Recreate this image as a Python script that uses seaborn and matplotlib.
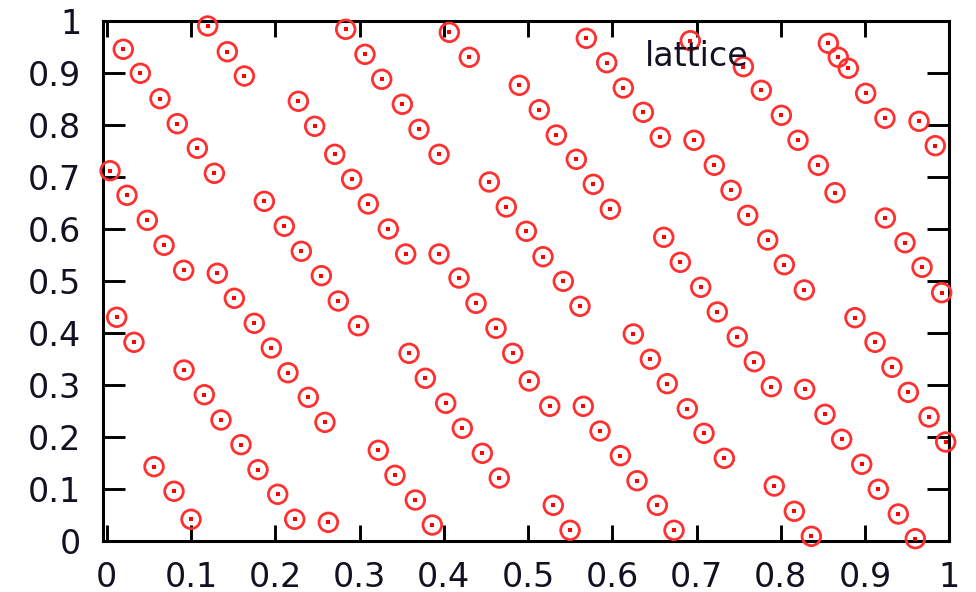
import matplotlib
matplotlib.use("Agg")
import matplotlib.pyplot as plt
import seaborn as sns
import pandas as pd

# Lattice point coordinates
x_vals = [
    0.1198, 0.2836, 0.0196, 0.1431, 0.3065, 0.0398, 0.1633, 0.3264, 0.0632, 0.2274,
    0.3508, 0.0837, 0.2468, 0.1075, 0.2706, 0.0039, 0.1277, 0.2907, 0.0240, 0.1870,
    0.3104, 0.0481, 0.2107, 0.3342, 0.0680, 0.2309, 0.0913, 0.1312, 0.2547, 0.4066,
    0.5692, 0.4303, 0.5934, 0.4897, 0.6131, 0.5134, 0.6369, 0.3706, 0.5336, 0.6570,
    0.3944, 0.5573, 0.4541, 0.5775, 0.4742, 0.5977, 0.4980, 0.6611, 0.3548, 0.3944,
    0.5178, 0.6808, 0.4181, 0.5419, 0.6926, 0.8565, 0.8683, 0.8802, 0.7556, 0.7769,
    0.9008, 0.8007, 0.9237, 0.9641, 0.6970, 0.8205, 0.9834, 0.7211, 0.8446, 0.7410,
    0.8644, 0.7608, 0.9241, 0.7845, 0.9475, 0.8042, 0.9677, 0.1514, 0.2748, 0.0118,
    0.1751, 0.2986, 0.0323, 0.1953, 0.0917, 0.2151, 0.1158, 0.2392, 0.1356, 0.2590,
    0.1593, 0.3223, 0.0561, 0.1795, 0.3421, 0.0798, 0.2029, 0.1000, 0.2231, 0.2630,
    0.4383, 0.5617, 0.4620, 0.6250, 0.3588, 0.4818, 0.6452, 0.3781, 0.5015, 0.6653,
    0.4023, 0.5258, 0.5656, 0.6891, 0.4220, 0.5855, 0.4458, 0.6096, 0.4659, 0.6294,
    0.3662, 0.5300, 0.6535, 0.3864, 0.5499, 0.6733, 0.7050, 0.8280, 0.9910, 0.7247,
    0.8881, 0.7484, 0.9119, 0.7686, 0.9320, 0.7888, 0.8284, 0.9514, 0.8525, 0.9760,
    0.7089, 0.8723, 0.9958, 0.7330, 0.8961, 0.7923, 0.9158, 0.8161, 0.9395, 0.8363,
    0.9597,
]
y_vals = [
    0.9910, 0.9846, 0.9462, 0.9415, 0.9365, 0.9000, 0.8948, 0.8885, 0.8512, 0.8462,
    0.8404, 0.8031, 0.7981, 0.7558, 0.7442, 0.7127, 0.7077, 0.6962, 0.6654, 0.6538,
    0.6487, 0.6173, 0.6058, 0.6006, 0.5692, 0.5577, 0.5212, 0.5154, 0.5108, 0.9788,
    0.9673, 0.9308, 0.9204, 0.8769, 0.8717, 0.8300, 0.8250, 0.7923, 0.7813, 0.7769,
    0.7442, 0.7346, 0.6910, 0.6865, 0.6429, 0.6385, 0.5962, 0.5846, 0.5525, 0.5525,
    0.5473, 0.5365, 0.5063, 0.5000, 0.9627, 0.9577, 0.9308, 0.9096, 0.9127, 0.8673,
    0.8615, 0.8192, 0.8135, 0.8077, 0.7712, 0.7712, 0.7608, 0.7231, 0.7231, 0.6750,
    0.6704, 0.6269, 0.6217, 0.5794, 0.5742, 0.5319, 0.5269, 0.4673, 0.4621, 0.4308,
    0.4192, 0.4146, 0.3827, 0.3717, 0.3294, 0.3242, 0.2819, 0.2769, 0.2333, 0.2288,
    0.1858, 0.1750, 0.1435, 0.1377, 0.1269, 0.0962, 0.0904, 0.0423, 0.0423, 0.0365,
    0.4577, 0.4519, 0.4096, 0.3987, 0.3615, 0.3615, 0.3500, 0.3135, 0.3083, 0.3031,
    0.2654, 0.2596, 0.2596, 0.2550, 0.2173, 0.2121, 0.1692, 0.1646, 0.1217, 0.1165,
    0.0794, 0.0692, 0.0692, 0.0313, 0.0212, 0.0212, 0.4885, 0.4833, 0.4781, 0.4410,
    0.4300, 0.3929, 0.3827, 0.3454, 0.3346, 0.2973, 0.2923, 0.2865, 0.2442, 0.2390,
    0.2077, 0.1962, 0.1910, 0.1596, 0.1481, 0.1063, 0.1000, 0.0577, 0.0525, 0.0096,
    0.0050,
]
tick_values = [0, 0.1, 0.2, 0.3, 0.4, 0.5, 0.6, 0.7, 0.8, 0.9, 1]
tick_labels = ["0", "0.1", "0.2", "0.3", "0.4", "0.5", "0.6", "0.7", "0.8", "0.9", "1"]
series_label = "lattice"

df = pd.DataFrame({"x": x_vals, "y": y_vals})

sns.set_style("white")
plt.rcParams["font.family"] = ["DejaVu Sans"]

W, H = 976, 592
fig = plt.figure(figsize=(W / 100, H / 100), dpi=100)
left, right, top, bottom = 103.4, 949.25, 21.3, 541.3
ax = fig.add_axes([left / W, 1 - bottom / H, (right - left) / W, (bottom - top) / H])

sns.scatterplot(data=df, x="x", y="y", ax=ax, marker="o", s=180,
                facecolor="none", edgecolor="#ff3030", linewidth=2.0,
                clip_on=False, zorder=3, legend=False)
sns.scatterplot(data=df, x="x", y="y", ax=ax, marker="s", s=5,
                color="#ff0000", linewidth=0, clip_on=False, zorder=4,
                legend=False)

ax.set_xlim(-0.004, 1.0)
ax.set_ylim(0, 1)
ax.set_xticks(tick_values)
ax.set_xticklabels(tick_labels)
ax.set_yticks(tick_values)
ax.set_yticklabels(tick_labels)
ax.set_xlabel("")
ax.set_ylabel("")
ax.grid(False)

for s in ax.spines.values():
    s.set_visible(True)
    s.set_linewidth(2.2)
    s.set_color("black")

ax.tick_params(axis="x", direction="in", top=True, bottom=True, length=11.5,
               width=2.1, pad=14, labelsize=24, colors="black")
ax.tick_params(axis="y", direction="in", left=True, right=True, length=16,
               width=2.1, pad=16, labelsize=24, colors="black")
for lab in ax.get_xticklabels() + ax.get_yticklabels():
    lab.set_color("#111122")

ax.text(0.7017, 0.914, series_label, transform=ax.transAxes, ha="center",
        va="baseline", fontsize=24, color="#111122")

fig.savefig("out.png", dpi=100)
